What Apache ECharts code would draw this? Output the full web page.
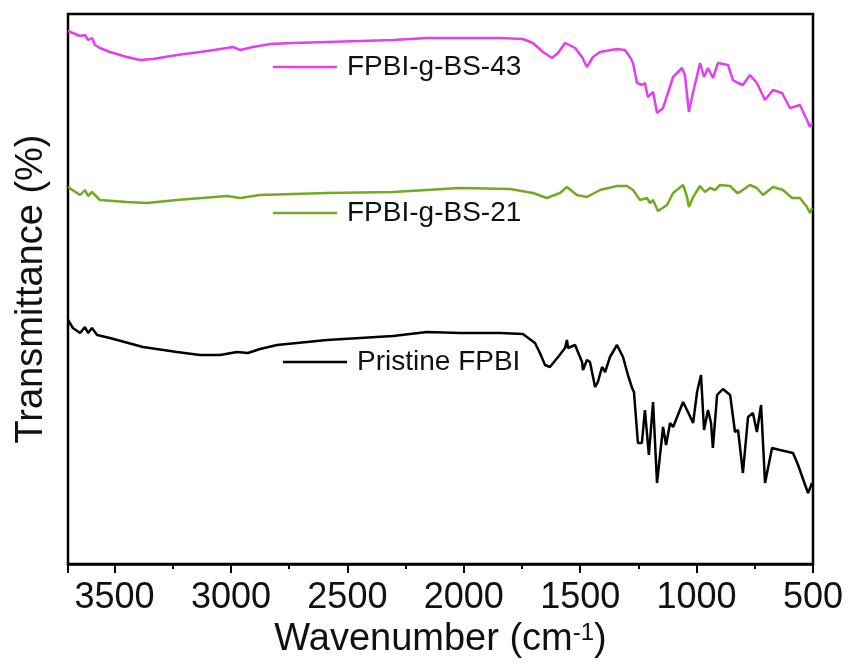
<!DOCTYPE html>
<html>
<head>
<meta charset="utf-8">
<script src="https://cdn.jsdelivr.net/npm/echarts@6/dist/echarts.min.js"></script>
<style>
  html, body { margin: 0; padding: 0; background: #fff; }
  #chart { width: 850px; height: 666px; }
</style>
</head>
<body>
<div id="chart"></div>
<script>
  // wavenumber (cm-1) and transmittance (arbitrary units, curves offset)
  const bs43Wn = [3700, 3648, 3627, 3614, 3597, 3584, 3563, 3520, 3447, 3391, 3335, 3232, 3133, 3017, 2991, 2961, 2905, 2832, 2734, 2588, 2446, 2304, 2158, 2016, 1874, 1844, 1746, 1703, 1660, 1621, 1595, 1565, 1557, 1522, 1492, 1471, 1445, 1415, 1342, 1308, 1286, 1273, 1256, 1235, 1222, 1209, 1187, 1170, 1144, 1101, 1063, 1050, 1033, 1015, 985, 968, 951, 930, 908, 865, 844, 822, 801, 771, 741, 706, 672, 633, 599, 556, 526, 513, 504]
  const bs43T = [533, 528, 529, 524, 526, 519, 516, 512, 507, 504, 505, 509, 512, 516, 517, 514, 517, 520, 521, 522, 523, 524, 526, 526, 526, 526, 525, 521, 512, 506, 511, 521, 523, 516, 507, 497, 507, 512, 515, 514, 507, 501, 481, 479, 481, 467, 472, 451, 456, 487, 496, 489, 452, 472, 501, 487, 496, 486, 501, 499, 484, 481, 479, 489, 481, 464, 474, 471, 456, 459, 444, 437, 441]

  const bs21Wn = [3700, 3648, 3627, 3614, 3597, 3563, 3447, 3361, 3232, 3017, 2961, 2875, 2588, 2304, 2016, 1801, 1703, 1643, 1587, 1557, 1514, 1471, 1415, 1342, 1299, 1273, 1243, 1213, 1200, 1187, 1166, 1127, 1101, 1058, 1041, 1033, 1015, 985, 964, 942, 921, 899, 856, 826, 814, 771, 741, 715, 672, 629, 590, 556, 526, 513, 504]
  const bs21T = [377, 369, 374, 368, 372, 364, 362, 361, 364, 368, 366, 369, 371, 372, 376, 375, 371, 366, 371, 377, 369, 367, 374, 378, 378, 374, 364, 366, 361, 364, 353, 359, 371, 379, 367, 357, 367, 378, 372, 376, 374, 379, 378, 371, 372, 379, 376, 369, 377, 374, 366, 366, 357, 351, 356]

  const fpbiWn = [3700, 3679, 3648, 3627, 3614, 3597, 3575, 3520, 3378, 3232, 3133, 3047, 2974, 2927, 2875, 2802, 2588, 2304, 2158, 2016, 1874, 1844, 1746, 1694, 1673, 1651, 1630, 1595, 1565, 1557, 1552, 1522, 1492, 1488, 1471, 1458, 1436, 1424, 1406, 1393, 1372, 1342, 1316, 1295, 1277, 1269, 1252, 1235, 1222, 1205, 1187, 1170, 1144, 1131, 1114, 1101, 1058, 1037, 1015, 998, 981, 968, 951, 938, 930, 912, 887, 856, 835, 822, 801, 779, 758, 741, 723, 706, 676, 642, 586, 564, 534, 521, 504]
  const fpbiT = [244, 236, 231, 237, 231, 236, 229, 226, 217, 212, 209, 209, 212, 211, 215, 219, 224, 228, 232, 231, 231, 231, 230, 221, 211, 199, 197, 207, 216, 224, 216, 219, 202, 194, 204, 202, 177, 182, 197, 192, 207, 219, 207, 189, 176, 172, 121, 121, 154, 109, 162, 81, 137, 119, 141, 137, 162, 152, 141, 172, 189, 134, 154, 141, 116, 169, 175, 169, 132, 134, 91, 147, 151, 132, 159, 81, 116, 114, 111, 99, 79, 71, 81]

  const seriesNames = ['FPBI-g-BS-43', 'FPBI-g-BS-21', 'Pristine FPBI']
  const seriesColors = ['#e23ff0', '#72ab22', '#000000']

  const font = 'Arial, "Liberation Sans", sans-serif'

  function pairs(xs, ys) {
    return xs.map((x, i) => [x, ys[i]])
  }

  function lineLegend(name, left, top) {
    return {
      data: [name],
      left: left,
      top: top,
      padding: 0,
      icon: 'rect',
      itemWidth: 64,
      itemHeight: 2.5,
      selectedMode: false,
      textStyle: {
        fontFamily: font,
        fontSize: 28,
        color: '#111',
        padding: [0, 0, 0, 5]
      }
    }
  }

  const chart = echarts.init(document.getElementById('chart'))
  const allData = [pairs(bs43Wn, bs43T), pairs(bs21Wn, bs21T), pairs(fpbiWn, fpbiT)]

  chart.setOption({
    animation: false,
    backgroundColor: '#fff',
    grid: {
      left: 68,
      right: 37,
      top: 14,
      bottom: 102,
      show: true,
      borderColor: '#000',
      borderWidth: 2.5
    },
    legend: [
      lineLegend(seriesNames[0], 273, 53),
      lineLegend(seriesNames[1], 273, 199),
      lineLegend(seriesNames[2], 283, 348)
    ],
    xAxis: {
      type: 'value',
      inverse: true,
      min: 500,
      max: 3700,
      interval: 500,
      name: 'Wavenumber (cm{sup|-1})',
      nameLocation: 'middle',
      nameGap: 56,
      nameTextStyle: {
        fontFamily: font,
        fontSize: 38,
        color: '#111',
        rich: {
          sup: { fontFamily: font, fontSize: 24, verticalAlign: 'top', padding: [0, 0, 14, 0], color: '#111' }
        }
      },
      axisLine: { lineStyle: { color: '#000', width: 2.5 } },
      axisTick: { length: 9, lineStyle: { color: '#000', width: 2 } },
      minorTick: { show: true, splitNumber: 2, length: 5, lineStyle: { color: '#000', width: 2 } },
      splitLine: { show: false },
      axisLabel: {
        fontFamily: font,
        fontSize: 36,
        color: '#111',
        margin: 16,
        showMaxLabel: false,
        formatter: v => String(v)
      }
    },
    yAxis: {
      type: 'value',
      min: 0,
      max: 550,
      name: 'Transmittance (%)',
      nameLocation: 'middle',
      nameGap: 17,
      nameTextStyle: { fontFamily: font, fontSize: 38, color: '#111' },
      axisLine: { show: false },
      axisTick: { show: false },
      axisLabel: { show: false },
      splitLine: { show: false }
    },
    series: seriesNames.map((name, i) => ({
      name: name,
      type: 'line',
      data: allData[i],
      showSymbol: false,
      color: seriesColors[i],
      lineStyle: { width: 2.5, color: seriesColors[i] }
    }))
  })
</script>
</body>
</html>
